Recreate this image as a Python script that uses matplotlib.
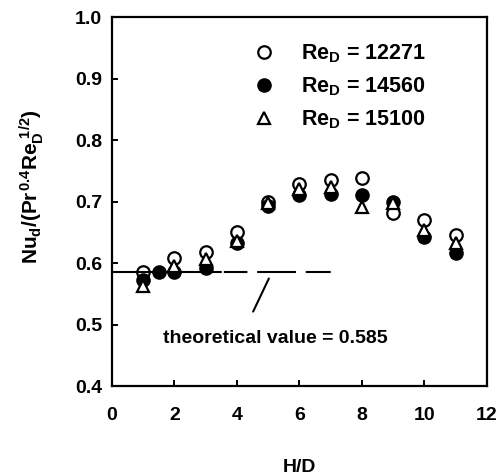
import matplotlib
matplotlib.use("Agg")
import matplotlib.pyplot as plt
from matplotlib.lines import Line2D

plt.rcParams['font.family'] = ['Liberation Sans', 'DejaVu Sans']
plt.rcParams['font.weight'] = 'bold'
plt.rcParams['mathtext.fontset'] = 'custom'
plt.rcParams['mathtext.rm'] = 'Liberation Sans:bold'
plt.rcParams['mathtext.it'] = 'Liberation Sans:bold'
plt.rcParams['mathtext.bf'] = 'Liberation Sans:bold'
plt.rcParams['lines.scale_dashes'] = False

# measured Nu_d / (Pr^0.4 Re_D^1/2) against H/D
hd_open = [1, 2, 3, 4, 5, 6, 7, 8, 9, 10, 11]
nu_12271 = [0.585, 0.609, 0.618, 0.650, 0.700, 0.728, 0.735, 0.738, 0.681, 0.670, 0.645]

hd_filled = [1, 1.5, 2, 3, 4, 5, 6, 7, 8, 9, 10, 11]
nu_14560 = [0.573, 0.585, 0.586, 0.592, 0.632, 0.693, 0.711, 0.712, 0.710, 0.700, 0.642, 0.616]

hd_tri = [1, 2, 3, 4, 5, 6, 7, 8, 9, 10, 11]
nu_15100 = [0.563, 0.595, 0.607, 0.636, 0.697, 0.720, 0.724, 0.692, 0.698, 0.654, 0.632]

theory = 0.585
theory_end = 7.05

xticks = [0, 2, 4, 6, 8, 10, 12]
yticks = [0.4, 0.5, 0.6, 0.7, 0.8, 0.9, 1.0]

fig = plt.figure(figsize=(5.02, 4.76), dpi=100)
ax = fig.add_axes([0.223, 0.189, 0.747, 0.775])

# theoretical value, broken dashes
ax.plot([0, theory_end], [theory, theory], color='black', lw=1.5,
        linestyle=(0, (79, 1.5, 17, 7, 28, 7, 18, 10)), zorder=1)

ax.plot(hd_open, nu_12271, 'o', ms=9, mfc='none', mec='black', mew=1.6, zorder=2)
ax.plot(hd_filled, nu_14560, 'o', ms=9.5, mfc='black', mec='black', zorder=3)
ax.plot(hd_tri, nu_15100, '^', ms=8, mfc='white', mec='black', mew=1.6, zorder=4)

# leader from the dashed line down to its label
ax.annotate('', xy=(5.06, 0.579), xytext=(4.48, 0.517),
            arrowprops=dict(arrowstyle='-', lw=1.5, color='black'))
ax.text(1.62, 0.470, 'theoretical value = 0.585', fontsize=14,
        fontweight='bold', ha='left', va='baseline')

handles = [
    Line2D([], [], marker='o', ls='none', ms=9, mfc='none', mec='black', mew=1.6),
    Line2D([], [], marker='o', ls='none', ms=9.5, mfc='black', mec='black'),
    Line2D([], [], marker='^', ls='none', ms=8, mfc='white', mec='black', mew=1.6),
]
labels = [r'Re$_{D}$ = 12271', r'Re$_{D}$ = 14560', r'Re$_{D}$ = 15100']
ax.legend(handles, labels, loc='upper left', bbox_to_anchor=(0.355, 0.955),
          frameon=False, fontsize=15.5, handletextpad=1.2, labelspacing=0.48,
          handlelength=1.0, borderaxespad=0)

ax.set_xlim(0, 12)
ax.set_ylim(0.4, 1.0)
ax.set_xticks(xticks)
ax.set_yticks(yticks)
ax.set_yticklabels([f'{v:.1f}' for v in yticks])
ax.tick_params(direction='in', length=4, width=1.4, labelsize=14,
               top=False, right=False)
ax.tick_params(axis='x', pad=15)
ax.tick_params(axis='y', pad=7)
for lab in ax.get_xticklabels() + ax.get_yticklabels():
    lab.set_fontweight('bold')
for sp in ax.spines.values():
    sp.set_linewidth(1.6)

ax.set_xlabel('H/D', fontsize=14, fontweight='bold', labelpad=25)
ax.set_ylabel(r'$Nu_d/(Pr^{0.4}Re_D^{\ 1/2})$', fontsize=15)
ax.yaxis.set_label_coords(-0.177, 0.54)

fig.savefig('out.png', dpi=100)
